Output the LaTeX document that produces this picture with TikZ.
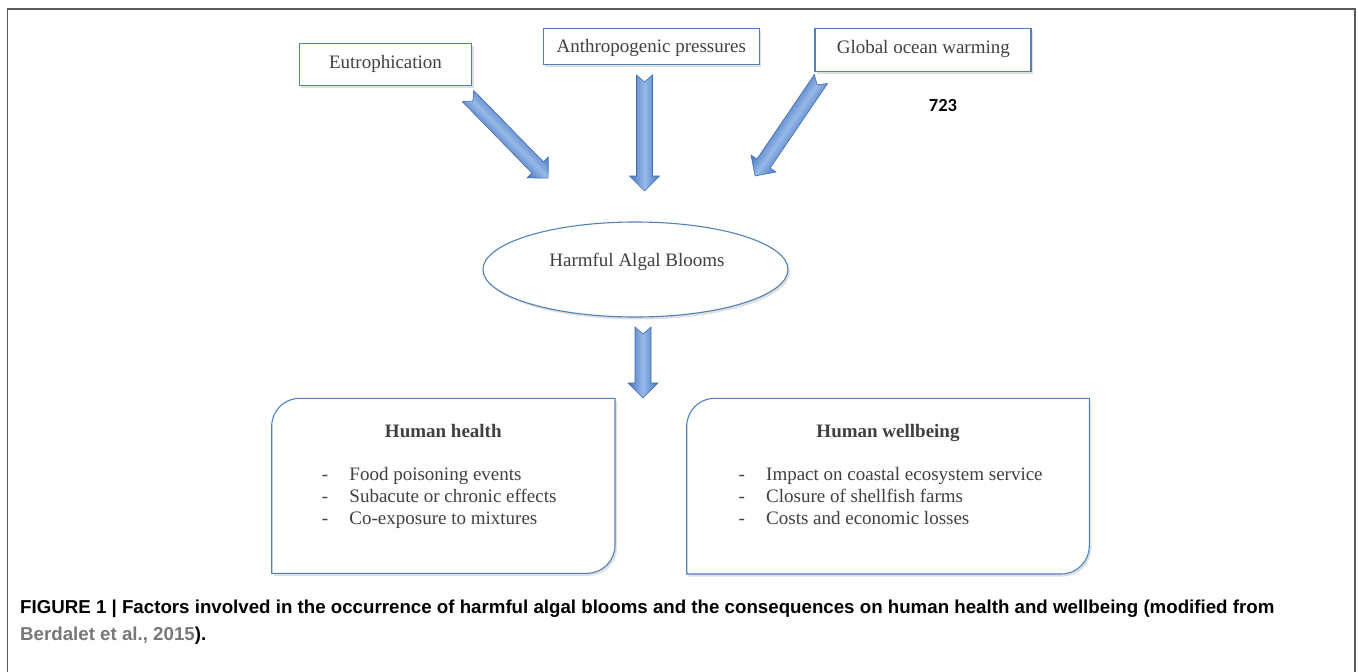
\documentclass[tikz,border=0pt]{standalone}
\usepackage{fontspec}
\setmainfont{Liberation Serif}
\newfontfamily\capfont{Liberation Sans}
\newfontfamily\numfont{Carlito}
\usetikzlibrary{shapes.geometric,shadows,calc}
\definecolor{boxblue}{RGB}{79,129,189}
\definecolor{arrdark}{RGB}{72,118,192}
\definecolor{arrlight}{RGB}{150,185,232}
\definecolor{arredge}{RGB}{66,108,176}
\definecolor{txt}{RGB}{64,64,64}
\definecolor{framegray}{RGB}{90,90,90}
\definecolor{linkgray}{RGB}{120,120,120}
\tikzset{
  boxstyle/.style={draw=boxblue, line width=1.1pt, fill=white,
    drop shadow={shadow xshift=2pt, shadow yshift=-2.5pt, opacity=0.25}},
  lbl/.style={font=\fontsize{19}{22}\selectfont, text=txt, inner sep=0pt, anchor=base},
  item/.style={font=\fontsize{19}{22}\selectfont, text=txt, inner sep=0pt, anchor=base west},
  ttl/.style={font=\bfseries\fontsize{19}{22}\selectfont, text=txt, inner sep=0pt, anchor=base},
  capstyle/.style={font=\capfont\bfseries\fontsize{18.7}{22}\selectfont, inner sep=0pt, anchor=base west},
}
\newcommand\blockarrow[2]{%
  \path let \p1=(#1), \p2=(#2) in
    \pgfextra{\pgfmathparse{atan2(\y2-\y1,\x2-\x1)}\xdef\BAang{\pgfmathresult}%
      \pgfmathparse{veclen(\x2-\x1,\y2-\y1)}\xdef\BAlen{\pgfmathresult}%
      \xdef\BAx{\x1}\xdef\BAy{\y1}};
  \begin{scope}[transform canvas={shift={(\BAx,\BAy)},rotate=\BAang}]
    \shade[top color=arrdark,bottom color=arrdark,middle color=arrlight,draw=arredge,line width=0.6pt]
      (0pt,8pt) -- ({\BAlen pt-15pt},8pt) -- ({\BAlen pt-15pt},15pt) -- (\BAlen pt,0pt)
      -- ({\BAlen pt-15pt},-15pt) -- ({\BAlen pt-15pt},-8pt) -- (0pt,-8pt) -- (7pt,0pt) -- cycle;
  \end{scope}}
\begin{document}
\begin{tikzpicture}[x=1pt,y=-1pt]
\useasboundingbox (0,0) rectangle (1358,672);
% frame
\draw[framegray, line width=1.2pt] (7.5,672) -- (7.5,9) -- (1355,9) -- (1355,672);
% top boxes
\node[boxstyle, minimum width=172.4pt, minimum height=41.7pt, inner sep=0pt] (eubox) at (385.5,64.2) {};
\node[lbl] (eutxt) at (385.5,68.3) {Eutrophication};
\node[boxstyle, minimum width=216pt, minimum height=36pt, inner sep=0pt] (anbox) at (651.3,46.3) {};
\node[lbl] (antxt) at (651.3,52.3) {Anthropogenic pressures};
\node[boxstyle, minimum width=216pt, minimum height=43.4pt, inner sep=0pt] (glbox) at (923,50) {};
\node[lbl] (gltxt) at (923.3,53.3) {Global ocean warming};
\node[anchor=base, inner sep=0pt, font=\numfont\bfseries\fontsize{18.5}{20}\selectfont] (num) at (943,111.7) {723};
% arrow end points
\coordinate (a1t) at (468,96);    \coordinate (a1h) at (548.3,178.3);
\coordinate (a2t) at (644.5,75);  \coordinate (a2h) at (644.5,191);
\coordinate (a3t) at (821,79);    \coordinate (a3h) at (755,176);
\coordinate (a4t) at (643,327);   \coordinate (a4h) at (643,398);
\blockarrow{a1t}{a1h}
\blockarrow{a2t}{a2h}
\blockarrow{a3t}{a3h}
% ellipse
\node[boxstyle, ellipse, minimum width=305pt, minimum height=95pt, inner sep=0pt] (hab) at (635.5,269.5) {};
\node[lbl] (habtxt) at (637,266.7) {Harmful Algal Blooms};
\blockarrow{a4t}{a4h}
% bottom boxes
\draw[boxstyle] (271.7,426.3) arc[start angle=180,end angle=90,radius=28pt] -- (615,398.3) -- (615,545.3)
  arc[start angle=0,end angle=-90,radius=28pt] -- (271.7,573.3) -- cycle;
\draw[boxstyle] (686.7,426.3) arc[start angle=180,end angle=90,radius=28pt] -- (1089.3,398.3) -- (1089.3,546)
  arc[start angle=0,end angle=-90,radius=28pt] -- (686.7,574) -- cycle;
\node[ttl] (hh) at (443.3,437.3) {Human health};
\node[item] (hh1) at (321.7,480.7) {\makebox[27.6pt][l]{-}Food poisoning events};
\node[item] (hh2) at (321.7,502.8) {\makebox[27.6pt][l]{-}Subacute or chronic effects};
\node[item] (hh3) at (321.7,524.9) {\makebox[27.6pt][l]{-}Co-exposure to mixtures};
\node[ttl] (hw) at (888,437.3) {Human wellbeing};
\node[item] (hw1) at (738.3,480.7) {\makebox[27.7pt][l]{-}Impact on coastal ecosystem service};
\node[item] (hw2) at (738.3,502.8) {\makebox[27.7pt][l]{-}Closure of shellfish farms};
\node[item] (hw3) at (738.3,524.9) {\makebox[27.7pt][l]{-}Costs and economic losses};
% caption
\node[capstyle] (cap1) at (20,613.5) {FIGURE 1 | Factors involved in the occurrence of harmful algal blooms and the consequences on human health and wellbeing (modified from};
\node[capstyle] (cap2) at (20,640) {\textcolor{linkgray}{Berdalet et al., 2015}).};
\end{tikzpicture}
\end{document}
